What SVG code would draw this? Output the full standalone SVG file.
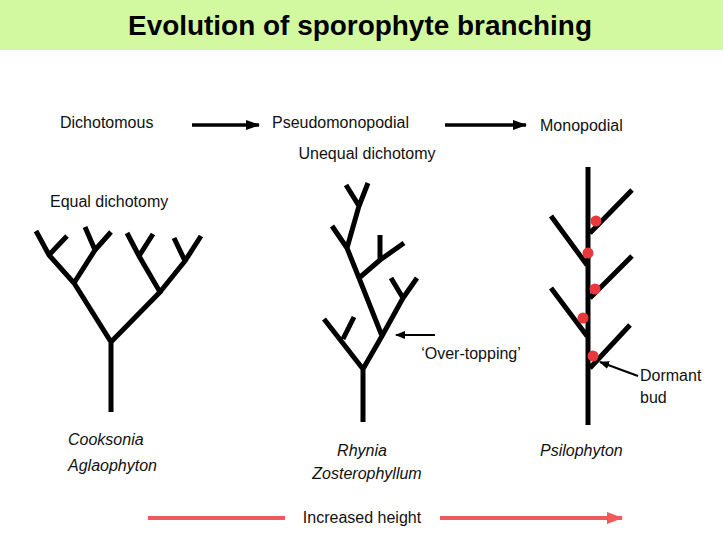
<svg xmlns="http://www.w3.org/2000/svg" width="723" height="538" viewBox="0 0 723 538">
<style>
.t{font-family:"Liberation Sans",Arial,sans-serif;font-size:16px;fill:#111}
.i{font-style:italic}
.b{fill:none;stroke:#000;stroke-width:5;stroke-linecap:butt;stroke-linejoin:miter}
.a{stroke:#000;stroke-width:3.5}
.bud{fill:#e8383c}
</style>
<defs>
<marker id="ah" markerWidth="14" markerHeight="10" refX="13" refY="5" orient="auto" markerUnits="userSpaceOnUse"><path d="M0,0L14,5L0,10z" fill="#000"/></marker>
<marker id="ahs" markerWidth="10" markerHeight="8" refX="9" refY="4" orient="auto" markerUnits="userSpaceOnUse"><path d="M0,0L10,4L0,8z" fill="#000"/></marker>
<marker id="ahr" markerWidth="16" markerHeight="12" refX="15" refY="6" orient="auto" markerUnits="userSpaceOnUse"><path d="M0,0L16,6L0,12z" fill="#f05a5a"/></marker>
</defs>
<rect width="723" height="538" fill="#fff"/>
<rect id="titlebar" width="723" height="50" fill="#d3f9a0"/>
<text x="360" y="35" text-anchor="middle" font-family="'Liberation Sans',Arial,sans-serif" font-weight="bold" font-size="27" textLength="464" lengthAdjust="spacingAndGlyphs">Evolution of sporophyte branching</text>

<g id="connectors">
<line class="a" x1="192" y1="125" x2="259" y2="125" marker-end="url(#ah)"/>
<line class="a" x1="445" y1="125" x2="526" y2="125" marker-end="url(#ah)"/>
<line stroke="#000" stroke-width="2" x1="435" y1="335" x2="396" y2="335" marker-end="url(#ahs)"/>
<line stroke="#000" stroke-width="2" x1="638" y1="376" x2="600" y2="362" marker-end="url(#ahs)"/>
<line stroke="#f05a5a" stroke-width="4" x1="148" y1="518" x2="285" y2="518"/>
<line stroke="#f05a5a" stroke-width="4" x1="440" y1="518" x2="622" y2="518" marker-end="url(#ahr)"/>
</g>

<g id="labels">
<text class="t" x="60" y="128">Dichotomous</text>
<text class="t" x="272" y="128">Pseudomonopodial</text>
<text class="t" x="540" y="131">Monopodial</text>
<text class="t" x="367" y="159" text-anchor="middle">Unequal dichotomy</text>
<text class="t" x="50" y="207" font-family="'DejaVu Sans Condensed','DejaVu Sans',sans-serif" font-size="15">Equal dichotomy</text>
<text class="t" x="471" y="359" text-anchor="middle">‘Over-topping’</text>
<text class="t" x="640" y="381">Dormant</text>
<text class="t" x="640" y="403">bud</text>
<text class="t i" x="68" y="445">Cooksonia</text>
<text class="t i" x="68" y="471">Aglaophyton</text>
<text class="t i" x="362" y="456" text-anchor="middle">Rhynia</text>
<text class="t i" x="367" y="479" text-anchor="middle">Zosterophyllum</text>
<text class="t i" x="540" y="456">Psilophyton</text>
<text class="t" x="362" y="523" text-anchor="middle">Increased height</text>
</g>

<g id="cooksonia">
<path class="b" d="M111,412V342L74,283L49,255L36,231M49,255L67,236M74,283L95,250L85,227M95,250L111,232M111,342L160,292L139,256L127,233M139,256L153,234M160,292L185,261L174,238M185,261L201,236"/>
</g>

<g id="rhynia">
<path class="b" d="M363,422V369L324,319M343,339L354,317M363,369L382,336L403,298L391,278M403,298L417,278M382,336L359,278L380,260L380,235M380,260L404,243M359,278L347,248L332,226M347,248L359,206L346,185M359,206L368,183"/>
</g>

<g id="psilophyton">
<path class="b" d="M588,167V425M590,233L632,190M590,298L632,256M590,368L630,325M551,216L587,265M551,288L587,336"/>
<circle class="bud" cx="596" cy="221" r="5.5"/>
<circle class="bud" cx="588" cy="253" r="5.5"/>
<circle class="bud" cx="595" cy="289" r="5.5"/>
<circle class="bud" cx="583" cy="318" r="5.5"/>
<circle class="bud" cx="593" cy="356" r="5.5"/>
</g>
</svg>
